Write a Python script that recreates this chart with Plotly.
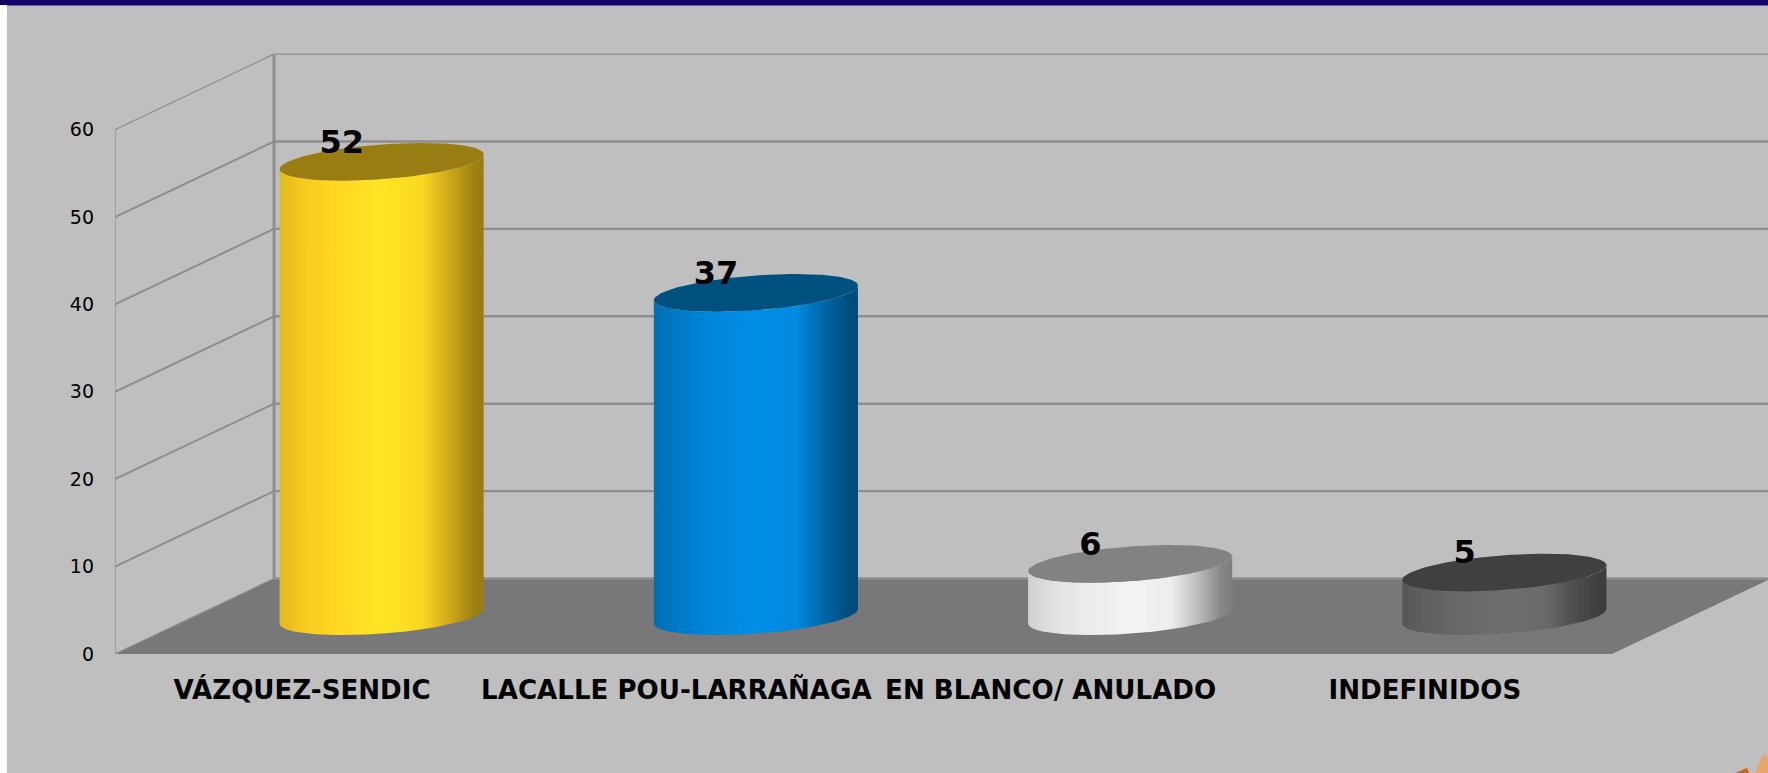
import plotly.graph_objects as go
import numpy as np

categories = ["VÁZQUEZ-SENDIC", "LACALLE POU-LARRAÑAGA", "EN BLANCO/ ANULADO", "INDEFINIDOS"]
values = [52, 37, 6, 5]
value_ticks = [0, 10, 20, 30, 40, 50, 60]
cap_colors = ["#9a7d12", "#005080", "#828282", "#404040"]
body_gradients = [
    ["#e0b820", "#f6c91e", "#ffd622", "#ffe524", "#f9d820", "#d0a81a", "#9f8212", "#9a7d10"],
    ["#006fb4", "#0078c4", "#0086da", "#008ee6", "#008ae0", "#0066a6", "#004e80", "#004a78"],
    ["#cfcfcf", "#dedede", "#ebebeb", "#f3f3f3", "#ededed", "#bdbdbd", "#858585", "#7e7e7e"],
    ["#565656", "#5f5f5f", "#686868", "#6e6e6e", "#6a6a6a", "#505050", "#3f3f3f", "#3c3c3c"],
]

W, H = 1768, 773
PLOT_L, PLOT_B, PLOT_T = 115, 654, 5
X_UNIT = 374.25      # px per category
Y_UNIT = 8.74        # px per value unit
DX = 159 / X_UNIT    # oblique depth, in category units
DY = 75.5 / Y_UNIT   # oblique depth, in value units
N = len(categories)
A = 94 / X_UNIT      # half width of the disc along the front
GRID = "#8e8e8e"
FONT = "DejaVu Sans"
STOPS = [0.0, 0.10, 0.26, 0.50, 0.70, 0.83, 0.95, 1.0]


def disc(cx, cy, t):
    """Circle lying on the floor plane, in the oblique projection."""
    return (cx + A * np.cos(t) + DX / 4 * np.sin(t), cy + DY / 4 * np.sin(t))


fig = go.Figure()


def line(xs, ys, width):
    fig.add_trace(go.Scatter(x=xs, y=ys, mode="lines", hoverinfo="skip",
                             line=dict(color=GRID, width=width)))


# Floor
fig.add_trace(go.Scatter(x=[0, N, N + DX, DX, 0], y=[0, 0, DY, DY, 0], mode="lines",
                         fill="toself", fillcolor="#787878", line=dict(width=0), hoverinfo="skip"))

# Walls and gridlines derived from the value ticks
top = value_ticks[-1]
for v in value_ticks:
    w = 1.2 if v == top else 2.4
    line([0, DX], [v, v + DY], 2 if 0 < v < top else 1.2)
    line([DX, N + DX], [v + DY, v + DY], w)
line([0, 0], [0, top], 1.2)
line([DX, DX], [DY, top + DY], 3)

# Cylinders
for i, (v, cap, grad) in enumerate(zip(values, cap_colors, body_gradients)):
    cx = i + 0.5 + DX / 2
    base = DY / 2
    tilt = np.arctan2(DX / 4, A)
    half = np.hypot(A, DX / 4)
    # Silhouette: lower rim of the base, then lower rim of the top
    t = np.linspace(tilt - np.pi, tilt, 80)
    bx, by = disc(cx, base, t)
    tx, ty = disc(cx, base + v, t[::-1])
    fig.add_trace(go.Scatter(
        x=np.r_[bx, tx], y=np.r_[by, ty], mode="lines", fill="toself", hoverinfo="skip",
        line=dict(width=0),
        fillgradient=dict(type="horizontal", start=cx - half, stop=cx + half,
                          colorscale=[[p, c] for p, c in zip(STOPS, grad)]),
    ))
    tt = np.linspace(0, 2 * np.pi, 160)
    ex, ey = disc(cx, base + v, tt)
    fig.add_trace(go.Scatter(x=ex, y=ey, mode="lines", fill="toself", hoverinfo="skip",
                             fillcolor=cap, line=dict(width=0)))

# Value labels
fig.add_trace(go.Scatter(
    x=[i + 0.5 + DX / 4 for i in range(N)],
    y=[v + DY * 0.75 - 0.2 for v in values],
    text=[str(v) for v in values], mode="text", textposition="middle center", hoverinfo="skip",
    textfont=dict(family=FONT, size=32, color="#000000", weight="bold"),
))


def px_y(y):
    return 1 - (y - PLOT_T) / (PLOT_B - PLOT_T)


def poly(points, color, layer="below"):
    path = "M" + " L".join(f"{(x - PLOT_L) / (W - PLOT_L):.5f},{px_y(y):.5f}" for x, y in points) + " Z"
    return dict(type="path", xref="paper", yref="paper", path=path, fillcolor=color,
                line=dict(width=0), layer=layer)


shapes = [
    poly([(0, 0), (W, 0), (W, 5.5), (0, 5.5)], "#15006a"),
    poly([(0, 5), (7, 5), (7, H), (0, H)], "#ffffff"),
    poly([(1763, 754), (1768, 757), (1768, H), (1755, H)], "#e9a66b"),
    poly([(1747, 768), (1749, H), (1735, H)], "#c9651f"),
]

fig.update_layout(
    width=W, height=H, autosize=False, showlegend=False,
    paper_bgcolor="#bfbfbf", plot_bgcolor="rgba(0,0,0,0)",
    margin=dict(l=PLOT_L, r=0, t=PLOT_T, b=H - PLOT_B, pad=0),
    shapes=shapes, font=dict(family=FONT, color="#000000"),
    xaxis=dict(range=[0, (W - PLOT_L) / X_UNIT], tickmode="array",
               tickvals=[i + 0.5 for i in range(N)], ticktext=categories,
               showgrid=False, zeroline=False, showline=False, ticks="",
               ticklabelstandoff=18, tickangle=0,
               tickfont=dict(family=FONT, size=26.1, color="#000000", weight="bold")),
    yaxis=dict(range=[0, (PLOT_B - PLOT_T) / Y_UNIT], tickmode="array",
               tickvals=value_ticks, ticktext=[str(v) for v in value_ticks],
               showgrid=False, zeroline=False, showline=False, ticks="",
               ticklabelstandoff=20,
               tickfont=dict(family=FONT, size=19, color="#000000")),
)

fig.write_html("out.html", config=dict(displayModeBar=False),
               post_script="document.body.style.margin='0';document.documentElement.style.overflow='hidden';")
